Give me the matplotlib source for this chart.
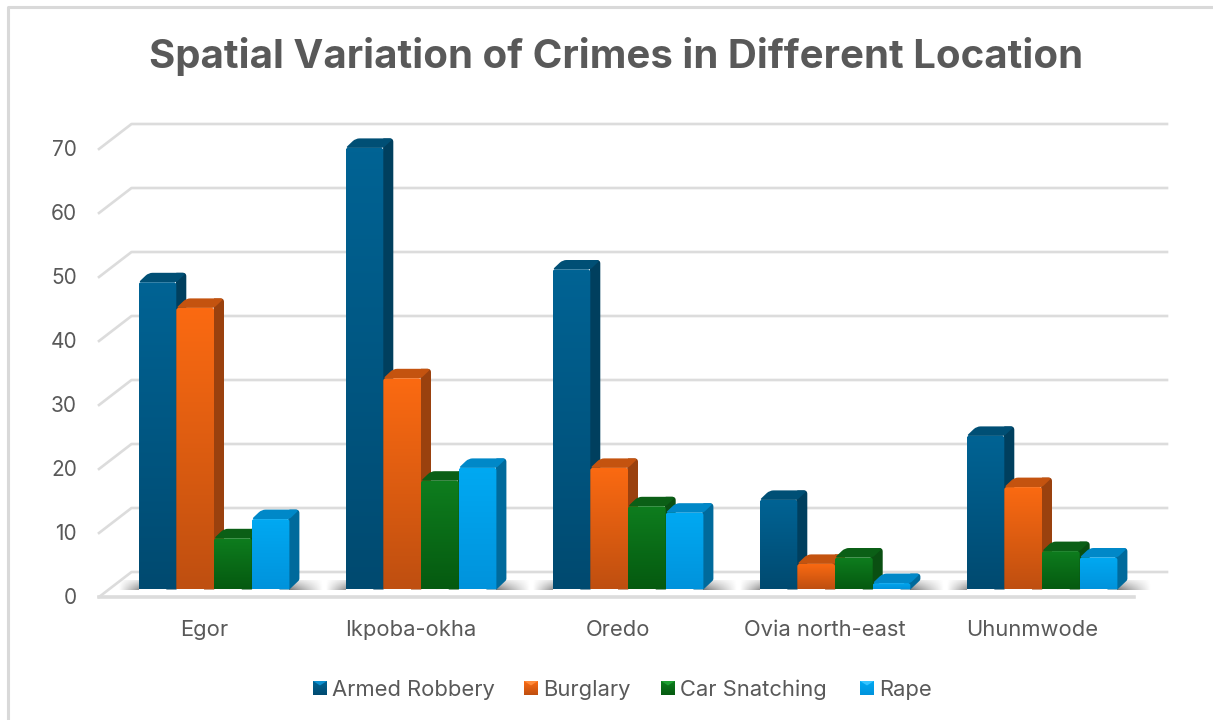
import numpy as np
import matplotlib
matplotlib.use("Agg")
import matplotlib.pyplot as plt
from matplotlib.colors import LinearSegmentedColormap
from matplotlib.patches import PathPatch, Polygon
from matplotlib.path import Path

plt.rcParams['font.family'] = ['Inter', 'DejaVu Sans']

# Chart data
locations = ["Egor", "Ikpoba-okha", "Oredo", "Ovia north-east", "Uhunmwode"]
series_names = ["Armed Robbery", "Burglary", "Car Snatching", "Rape"]
armed_robbery = [48, 69, 50, 14, 24]
burglary = [44, 33, 19, 4, 16]
car_snatching = [8, 17, 13, 5, 6]
rape = [11, 19, 12, 1, 5]
y_ticks = [0, 10, 20, 30, 40, 50, 60, 70]

# (front top, front bottom, side, top face, key highlight)
palette = [
    ("#006394", "#004a70", "#003f5e", "#004f75", "#0a8fd0"),
    ("#fb6a12", "#bf4f10", "#9a410e", "#c4530f", "#ff8a3a"),
    ("#0e7d1e", "#055a10", "#0a4f12", "#0b5f16", "#1ea032"),
    ("#00a9f2", "#0093dc", "#006a9c", "#0088c8", "#35c4ff"),
]

W, H = 1213, 720
PX_X = 207.0      # pixels per category
PX_Y = 6.4        # pixels per unit of value
X0_PX = 214.0     # pixel x of first category centre
Y0_PX = 589.5     # pixel y of value 0 on the bar plane

fig = plt.figure(figsize=(W / 100, H / 100), dpi=100, facecolor="white")
ax = fig.add_axes([0, 0, 1, 1])
ax.set_xlim(-X0_PX / PX_X, (W - X0_PX) / PX_X)
ax.set_ylim((Y0_PX - H) / PX_Y, Y0_PX / PX_Y)
ax.axis("off")
xlim, ylim = ax.get_xlim(), ax.get_ylim()

bar_w = 37.7 / PX_X
dep_x = 10.0 / PX_X
dep_y = 9.5 / PX_Y
GRID = "#dcdcdc"
TEXT = "#595959"


def rounded_path(pts, radii):
    # polygon with quadratic corners; radii are per vertex, in pixels
    pts = np.array(pts, dtype=float) * [PX_X, PX_Y]
    n = len(pts)
    verts, codes = [], []
    for k in range(n):
        p, prev, nxt = pts[k], pts[k - 1], pts[(k + 1) % n]
        d1 = (prev - p) / np.linalg.norm(prev - p)
        d2 = (nxt - p) / np.linalg.norm(nxt - p)
        r = min(radii[k], np.linalg.norm(prev - p) / 2, np.linalg.norm(nxt - p) / 2)
        a, b = p + d1 * r, p + d2 * r
        verts.append(a)
        codes.append(Path.MOVETO if k == 0 else Path.LINETO)
        verts += [p, b]
        codes += [Path.CURVE3, Path.CURVE3]
    verts.append(verts[0])
    codes.append(Path.CLOSEPOLY)
    return Path(np.array(verts) / [PX_X, PX_Y], codes)


def vgrad(x0, x1, y0, y1, c_top, c_bottom, zorder, clip=None):
    cmap = LinearSegmentedColormap.from_list("g", [c_top, c_bottom])
    grad = np.linspace(0, 1, 64).reshape(-1, 1)
    im = ax.imshow(grad, extent=(x0, x1, y0, y1), cmap=cmap, aspect="auto",
                   origin="upper", zorder=zorder, interpolation="bilinear")
    if clip is not None:
        im.set_clip_path(clip)
    return im


def floor_shadow(x0, x1, fade_right, zorder):
    # horizontal alpha fade lying on the floor next to a bar group
    alpha = np.linspace(0.8, 0, 64) if fade_right else np.linspace(0, 0.65, 64)
    rows = np.linspace(0.25, 1, 16).reshape(-1, 1)
    img = np.zeros((16, 64, 4))
    img[..., :3] = 0.35
    img[..., 3] = alpha.reshape(1, -1) * rows
    ax.imshow(img, extent=(x0, x1, -0.05, dep_y), aspect="auto",
              origin="upper", zorder=zorder, interpolation="bilinear")


def draw_bar(x0, val, colors, zorder):
    c_top, c_bot, c_side, c_cap = colors[:4]
    x1 = x0 + bar_w
    side = PathPatch(rounded_path([(x1 - dep_x, 0), (x1, 0), (x1 + dep_x, dep_y),
                                   (x1 + dep_x, val + dep_y), (x1, val + dep_y)],
                                  [0, 0, 1.5, 3.5, 0]),
                     fc=c_side, ec="none", zorder=zorder)
    cap = PathPatch(rounded_path([(x0, val), (x0 + dep_x, val + dep_y),
                                  (x1 + dep_x, val + dep_y), (x1, val)],
                                 [2.5, 4, 4, 2.5]),
                    fc=c_cap, ec="none", zorder=zorder + 0.05)
    ax.add_patch(side)
    ax.add_patch(cap)
    front = PathPatch(rounded_path([(x0, 0), (x0, val), (x1, val), (x1, 0)], [0.5, 2.5, 2.5, 0.5]),
                      transform=ax.transData, fc="none", ec="none")
    ax.add_patch(front)
    vgrad(x0, x1, 0, val, c_top, c_bot, zorder + 0.1, clip=front)


# chart frame, open to the right and bottom
ax.plot([8 / PX_X + xlim[0], 8 / PX_X + xlim[0], xlim[1]],
        [ylim[0], ylim[1] - 7 / PX_Y, ylim[1] - 7 / PX_Y], color="#d9d9d9", lw=2.2, zorder=1)

# gridlines on the back wall, slanted side wall and floor
wall_left = (99 - X0_PX) / PX_X
wall_right = (1167 - X0_PX) / PX_X
back_dx = 32.5 / PX_X
floor_shift = -(597 - Y0_PX) / PX_Y     # front plane sits below the bar plane
back_shift = (Y0_PX - 572) / PX_Y
for t in y_ticks:
    y_back = t + back_shift
    y_front = t + floor_shift
    ax.plot([wall_left, wall_left + back_dx, wall_right], [y_front, y_back, y_back],
            color=GRID, lw=1.9, zorder=1, solid_joinstyle="round")
    ax.text((77 - X0_PX) / PX_X, t + floor_shift - 0.2, str(t), ha="right", va="center",
            fontsize=15, color=TEXT)
ax.plot([wall_left, wall_right - back_dx], [floor_shift, floor_shift], color=GRID, lw=2.6, zorder=1)

values = [armed_robbery, burglary, car_snatching, rape]
for i, loc in enumerate(locations):
    left = i - 2 * bar_w
    floor_shadow(left - 20 / PX_X, left, False, 2)
    floor_shadow(left + 4 * bar_w, left + 4 * bar_w + 34 / PX_X, True, 2)
    for j, vals in enumerate(values):
        draw_bar(left + j * bar_w, vals[i], palette[j], 3 + j)
    ax.text(i - 10 / PX_X, (Y0_PX - 629.5) / PX_Y, loc, ha="center", va="center", fontsize=15.8, color=TEXT)

ax.text((616 - X0_PX) / PX_X, (Y0_PX - 57) / PX_Y, "Spatial Variation of Crimes in Different Location",
        ha="center", va="center", fontsize=28.9, fontweight="bold", color=TEXT)

# legend keys with a bevelled look
legend_px = [313, 524, 661, 860]
for name, colors, lx in zip(series_names, palette, legend_px):
    x0 = (lx - X0_PX) / PX_X
    x1 = x0 + 14 / PX_X
    y0 = (Y0_PX - 695) / PX_Y
    y1 = y0 + 14 / PX_Y
    vgrad(x0, x1, y0, y1, colors[0], colors[1], 3)
    ax.add_patch(Polygon([(x0, y1), (x1, y1), ((x0 + x1) / 2, (y0 + y1) / 2 + 0.4)],
                         closed=True, fc=colors[4], ec="none", zorder=3.1))
    ax.text(x1 + 5 / PX_X, (Y0_PX - 689.5) / PX_Y, name, ha="left", va="center",
            fontsize=15.8, color=TEXT)

ax.set_xlim(xlim)
ax.set_ylim(ylim)
fig.savefig("out.png", dpi=100, facecolor="white")
